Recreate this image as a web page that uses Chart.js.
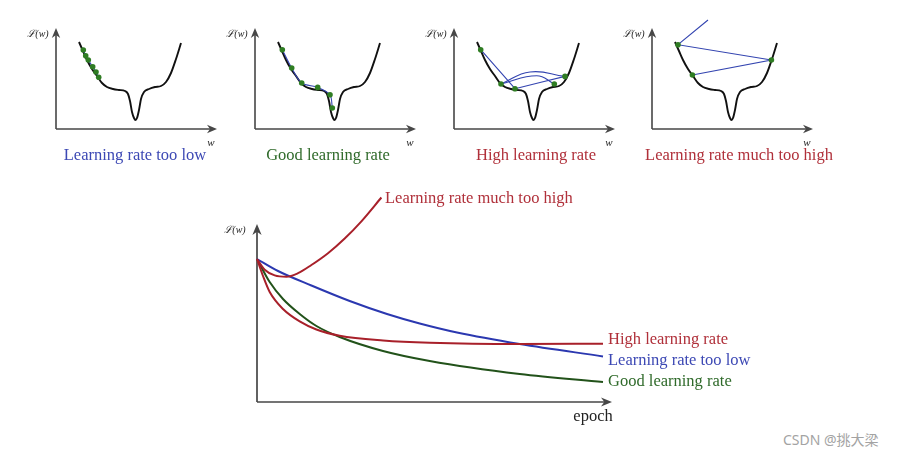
<!DOCTYPE html>
<html>
<head>
<meta charset="utf-8">
<script src="https://cdn.jsdelivr.net/npm/chart.js@4.4.0/dist/chart.umd.min.js"></script>
<style>
  html, body { margin: 0; padding: 0; background: #fff; }
  body { width: 899px; height: 456px; position: relative; overflow: hidden; }
  canvas { position: absolute; }
  #mark { position: absolute; left: 783px; top: 429px; font: 14px "Noto Sans", "Noto Sans CJK SC", sans-serif; color: #a3a3a3; white-space: nowrap; }
</style>
</head>
<body>
<div id="mark">CSDN @挑大梁</div>
<script>
// loss landscape L(w), shared by the four small panels (w right of the axis, L above it)
var lossW = [23, 27, 31, 36, 41, 46, 51, 57, 63, 69, 72, 74, 76, 78, 79.5, 81, 83, 85, 88, 93, 99, 105, 110, 115, 120, 125];
var lossL = [87, 78, 69, 60, 53, 46, 42, 40, 39, 38, 35, 28, 17, 11, 9, 11, 19, 30, 37, 40, 42, 43, 47, 56, 70, 86];

// gradient descent steps on each small panel
var lowW  = [27.3, 29.7, 32.3, 36.7, 40, 42.7];
var lowL  = [79, 73.3, 69, 62.3, 57, 51.7];
var goodW = [27.3, 36.7, 46.7, 62.7, 75, 77.3];
var goodL = [79.3, 61, 46, 41.6, 34.3, 21];
var highW = [26.7, 47, 61, 100.3, 111];
var highL = [79.3, 45, 40.3, 45, 52.6];
var highOrder = [0, 2, 4, 1, 3];
var highArcW  = [null, null, 76, 82.7];   // bend of each jump, null = straight
var highArcL  = [null, null, 57, 53.3];
var wildW = [26, 40.4, 119.4];
var wildL = [84.3, 54, 69];
var wildOrder = [1, 2, 0];
var wildExitW = 56, wildExitL = 109;

// bottom chart: loss against epoch
var tooHighEpoch = [0, 7.7, 17.7, 29.4, 41, 54.4, 71, 87.7, 104.4, 124.4];
var tooHighLoss  = [143, 132.3, 126.6, 125.2, 128.8, 137, 148.8, 163.5, 180.7, 204.5];
var highEpoch = [0, 6, 12.7, 26, 42.7, 59.4, 82.7, 126, 172.7, 262.7, 346];
var highLoss  = [143, 126, 110, 93, 80.6, 72.5, 66.3, 61.6, 59.3, 58, 58.3];
var lowEpoch  = [0, 21, 54.4, 92.7, 130, 162.7, 200, 262.7, 346];
var lowLoss   = [143, 131, 116.5, 101, 88, 78.5, 69.5, 58, 45.6];
var goodEpoch = [0, 12.7, 26, 42.7, 59.4, 82.7, 126, 172.7, 262.7, 346];
var goodLoss  = [143, 120, 103, 88, 76, 65, 51, 41, 28, 20];

var AXIS = '#474747';
var RED = '#a8202a', BLUE = '#2b38b0', GREEN = '#22521a';
var CAP_RED = '#b0303a', CAP_BLUE = '#3c48b4', CAP_GREEN = '#2f6a2a';
var DOT = '#2f7d23', STEP = '#3344b0';
var SERIF = '"Liberation Serif", "DejaVu Serif", serif';

function pts(xs, ys) {
  return xs.map(function (x, i) { return { x: x, y: ys[i] }; });
}

// axes with arrow heads and free text, placed in data units
var diagramPlugin = {
  id: 'diagram',
  beforeDatasetsDraw: function (chart, args, opts) {
    var ctx = chart.ctx, sx = chart.scales.x, sy = chart.scales.y;
    var ox = sx.getPixelForValue(0), oy = sy.getPixelForValue(0);
    var tx = sx.getPixelForValue(opts.xTip), ty = sy.getPixelForValue(opts.yTip);
    var L = opts.head, H = opts.head * 0.42;
    ctx.save();
    ctx.strokeStyle = AXIS;
    ctx.fillStyle = AXIS;
    ctx.lineWidth = opts.axisWidth;
    ctx.beginPath();
    ctx.moveTo(ox, oy); ctx.lineTo(tx - L * 0.6, oy);
    ctx.moveTo(ox, oy); ctx.lineTo(ox, ty + L * 0.6);
    ctx.stroke();
    ctx.beginPath();
    ctx.moveTo(tx, oy); ctx.lineTo(tx - L, oy - H); ctx.lineTo(tx - L * 0.7, oy); ctx.lineTo(tx - L, oy + H);
    ctx.closePath(); ctx.fill();
    ctx.beginPath();
    ctx.moveTo(ox, ty); ctx.lineTo(ox - H, ty + L); ctx.lineTo(ox, ty + L * 0.7); ctx.lineTo(ox + H, ty + L);
    ctx.closePath(); ctx.fill();
    ctx.restore();
  },
  afterDraw: function (chart, args, opts) {
    var ctx = chart.ctx, sx = chart.scales.x, sy = chart.scales.y;
    ctx.save();
    ctx.textBaseline = 'middle';
    (opts.labels || []).forEach(function (l) {
      ctx.font = l.font;
      ctx.fillStyle = l.color;
      ctx.textAlign = l.align || 'center';
      ctx.fillText(l.text, sx.getPixelForValue(l.x), sy.getPixelForValue(l.y));
    });
    ctx.restore();
  }
};
Chart.register(diagramPlugin);

function makeCanvas(left, top, w, h) {
  var c = document.createElement('canvas');
  c.width = w; c.height = h;
  c.style.left = left + 'px'; c.style.top = top + 'px';
  c.style.width = w + 'px'; c.style.height = h + 'px';
  document.body.appendChild(c);
  return c;
}

function baseOptions(xMax, yMax, pad, diagram) {
  return {
    responsive: false,
    animation: false,
    devicePixelRatio: 1,
    layout: { padding: pad },
    plugins: { legend: { display: false }, tooltip: { enabled: false }, diagram: diagram },
    scales: {
      x: { type: 'linear', display: false, min: 0, max: xMax },
      y: { type: 'linear', display: false, min: 0, max: yMax }
    }
  };
}

function curveSet(data, color, width) {
  return {
    data: data, showLine: true, borderColor: color, borderWidth: width,
    pointRadius: 0, cubicInterpolationMode: 'monotone', clip: false, order: 2
  };
}

function stepSet(data, tension) {
  return {
    data: data, showLine: true, borderColor: STEP, borderWidth: 1.1,
    pointRadius: 0, tension: tension, clip: false, order: 1
  };
}

function dotSet(xs, ys) {
  return {
    data: pts(xs, ys), showLine: false, pointRadius: 2.8, pointBorderWidth: 0,
    pointBackgroundColor: DOT, clip: false, order: 0
  };
}

// jumps on the "high" panel, following highOrder, bent through highArc points
function highSteps() {
  var sets = [];
  for (var k = 0; k < highOrder.length - 1; k++) {
    var a = highOrder[k], b = highOrder[k + 1];
    var d = [{ x: highW[a], y: highL[a] }];
    if (highArcW[k] !== null) d.push({ x: highArcW[k], y: highArcL[k] });
    d.push({ x: highW[b], y: highL[b] });
    sets.push(stepSet(d, 0.45));
  }
  return sets;
}

function wildSteps() {
  var d = wildOrder.map(function (i) { return { x: wildW[i], y: wildL[i] }; });
  d.push({ x: wildExitW, y: wildExitL });
  return [stepSet(d, 0)];
}

// small panels: origin on the page and caption
var panels = [
  { ox: 56,  caption: 'Learning rate too low',       capX: 79, color: CAP_BLUE,
    sets: function () { return [dotSet(lowW, lowL), stepSet(pts(lowW, lowL), 0)]; } },
  { ox: 255, caption: 'Good learning rate',          capX: 73, color: CAP_GREEN,
    sets: function () { return [dotSet(goodW, goodL), stepSet(pts(goodW, goodL), 0.3)]; } },
  { ox: 454, caption: 'High learning rate',          capX: 82, color: CAP_RED,
    sets: function () { return [dotSet(highW, highL)].concat(highSteps()); } },
  { ox: 652, caption: 'Learning rate much too high', capX: 87, color: CAP_RED,
    sets: function () { return [dotSet(wildW, wildL)].concat(wildSteps()); } }
];

var PANEL_OY = 129;
panels.forEach(function (p) {
  var padL = 45, padT = 4, xMax = 165, yMax = 112, w = 240, h = 165;
  var canvas = makeCanvas(p.ox - padL, PANEL_OY - padT - yMax, w, h);
  var datasets = p.sets();
  datasets.push(curveSet(pts(lossW, lossL), '#111', 1.9));
  new Chart(canvas, {
    type: 'scatter',
    data: { datasets: datasets },
    options: baseOptions(xMax, yMax, { left: padL, top: padT, right: w - padL - xMax, bottom: h - padT - yMax }, {
      xTip: 161, yTip: 101, axisWidth: 1.6, head: 10,
      labels: [
        { text: 'ℒ(w)', x: -18, y: 95, color: '#222', font: 'italic 10px ' + SERIF },
        { text: 'w', x: 155, y: -14, color: '#222', font: 'italic 11px ' + SERIF },
        { text: p.caption, x: p.capX, y: -27, color: p.color, font: '16.5px ' + SERIF }
      ]
    })
  });
});

// main chart
(function () {
  var ox = 257, oy = 402;
  var padL = 77, padT = 10, xMax = 360, yMax = 210, w = 630, h = 262;
  var canvas = makeCanvas(ox - padL, oy - padT - yMax, w, h);
  new Chart(canvas, {
    type: 'scatter',
    data: {
      datasets: [
        curveSet(pts(tooHighEpoch, tooHighLoss), RED, 2),
        curveSet(pts(highEpoch, highLoss), RED, 2),
        curveSet(pts(lowEpoch, lowLoss), BLUE, 2),
        curveSet(pts(goodEpoch, goodLoss), GREEN, 2)
      ]
    },
    options: baseOptions(xMax, yMax, { left: padL, top: padT, right: w - padL - xMax, bottom: h - padT - yMax }, {
      xTip: 355, yTip: 178, axisWidth: 1.7, head: 11,
      labels: [
        { text: 'ℒ(w)', x: -22, y: 172, color: '#222', font: 'italic 10px ' + SERIF },
        { text: 'epoch', x: 336, y: -15, color: '#222', font: '16.5px ' + SERIF },
        { text: 'Learning rate much too high', x: 128, y: 203, color: CAP_RED, font: '16.5px ' + SERIF, align: 'left' },
        { text: 'High learning rate', x: 351, y: 62, color: CAP_RED, font: '16.5px ' + SERIF, align: 'left' },
        { text: 'Learning rate too low', x: 351, y: 41, color: CAP_BLUE, font: '16.5px ' + SERIF, align: 'left' },
        { text: 'Good learning rate', x: 351, y: 20.5, color: CAP_GREEN, font: '16.5px ' + SERIF, align: 'left' }
      ]
    })
  });
})();
</script>
</body>
</html>
